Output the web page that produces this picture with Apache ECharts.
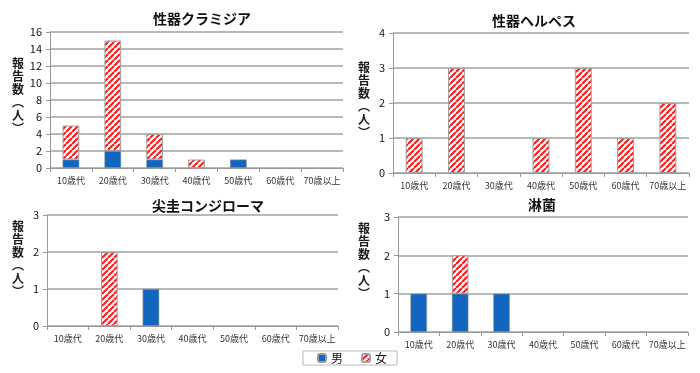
<!DOCTYPE html>
<html><head><meta charset="utf-8">
<script src="https://cdn.jsdelivr.net/npm/echarts@6/dist/echarts.min.js"></script>
<style>html,body{margin:0;padding:0;background:#fff}#c{width:700px;height:373px}</style>
</head><body><div id="c"></div>
<script>
const categories = ['10歳代','20歳代','30歳代','40歳代','50歳代','60歳代','70歳以上'];
const titles = ['性器クラミジア','性器ヘルペス','尖圭コンジローマ','淋菌'];
const yMax = [16, 4, 3, 3];
const yInterval = [2, 1, 1, 1];
const chlamydiaMale   = [1, 2, 1, 0, 1, 0, 0];
const chlamydiaFemale = [4, 13, 3, 1, 0, 0, 0];
const herpesMale      = [0, 0, 0, 0, 0, 0, 0];
const herpesFemale    = [1, 3, 0, 1, 3, 1, 2];
const condylomaMale   = [0, 0, 1, 0, 0, 0, 0];
const condylomaFemale = [0, 2, 0, 0, 0, 0, 0];
const gonorrheaMale   = [1, 1, 1, 0, 0, 0, 0];
const gonorrheaFemale = [0, 1, 0, 0, 0, 0, 0];
const maleData = [chlamydiaMale, herpesMale, condylomaMale, gonorrheaMale];
const femaleData = [chlamydiaFemale, herpesFemale, condylomaFemale, gonorrheaFemale];

// layout
const grids = [
  {left: 50, top: 32, width: 293, height: 136},
  {left: 393, top: 33, width: 296, height: 140},
  {left: 47, top: 215, width: 291, height: 111},
  {left: 398, top: 217, width: 290, height: 115}
];
const titlePos = [[197, 7], [529, 9], [203, 194], [537, 193]];
const yNamePos = [[18, 57], [364, 61], [18, 220], [364, 222]];

// hatch pattern
const pc = document.createElement('canvas');
pc.width = 6; pc.height = 6;
const g = pc.getContext('2d');
g.fillStyle = '#fff'; g.fillRect(0, 0, 6, 6);
g.strokeStyle = '#ff1a1a'; g.lineWidth = 2.1;
g.beginPath();
for (let k = -12; k <= 12; k += 6) { g.moveTo(k, 6); g.lineTo(k + 6, 0); }
g.stroke();
const hatch = {image: pc, repeat: 'repeat'};
const blue = '#1366BF';

const z = v => v.map(x => x === 0 ? '-' : x);

const option = {
  animation: false,
  textStyle: {fontFamily: '"Noto Sans CJK JP", sans-serif'},
  title: titles.map((t, i) => ({
    text: t, left: titlePos[i][0], top: titlePos[i][1], textAlign: 'center',
    textStyle: {fontSize: 14, fontWeight: 'bold', color: '#111', fontFamily: '"Noto Sans CJK JP", sans-serif'}
  })),
  legend: {
    left: 303, top: 351, itemWidth: 8, itemHeight: 8, itemGap: 18,
    padding: [1, 10, 1, 14], borderColor: '#bbb', borderWidth: 1,
    data: ['男', '女'],
    textStyle: {fontSize: 12, color: '#111'}
  },
  grid: grids.map(gr => Object.assign({containLabel: false}, gr)),
  xAxis: grids.map((gr, i) => ({
    type: 'category', gridIndex: i, data: categories,
    axisLine: {lineStyle: {color: '#999', width: 1}},
    axisTick: {show: true, length: 4, lineStyle: {color: '#999'}},
    axisLabel: {fontSize: 9, color: '#333', margin: 8, interval: 0}
  })),
  yAxis: grids.map((gr, i) => ({
    type: 'value', gridIndex: i, min: 0, max: yMax[i], interval: yInterval[i],
    axisLine: {show: true, lineStyle: {color: '#999'}},
    axisTick: {show: true, length: 4, lineStyle: {color: '#999'}},
    axisLabel: {fontSize: 11, color: '#111', margin: 8},
    splitLine: {lineStyle: {color: '#a0a0a0', width: 1.5}}
  })),
  graphic: yNamePos.map(p => ({
    type: 'text', x: p[0], y: p[1],
    style: {text: '報\n告\n数\n︵\n人\n︶', fontSize: 12, fontWeight: 'bold',
            fontFamily: '"Noto Sans CJK JP"', fill: '#1a1a1a', lineHeight: 13,
            align: 'center', verticalAlign: 'top'}
  })),
  series: []
};
for (let i = 0; i < 4; i++) {
  option.series.push({
    name: '男', type: 'bar', stack: 's' + i, xAxisIndex: i, yAxisIndex: i,
    barWidth: '40%', data: z(maleData[i]),
    itemStyle: {color: blue, borderColor: '#9a9a9a', borderWidth: 0.6}
  });
  option.series.push({
    name: '女', type: 'bar', stack: 's' + i, xAxisIndex: i, yAxisIndex: i,
    barWidth: '40%', data: z(femaleData[i]),
    itemStyle: {color: hatch, borderColor: '#a0a0a0', borderWidth: 1}
  });
}
const chart = echarts.init(document.getElementById('c'), null, {renderer: 'canvas'});
chart.setOption(option);
</script></body></html>
